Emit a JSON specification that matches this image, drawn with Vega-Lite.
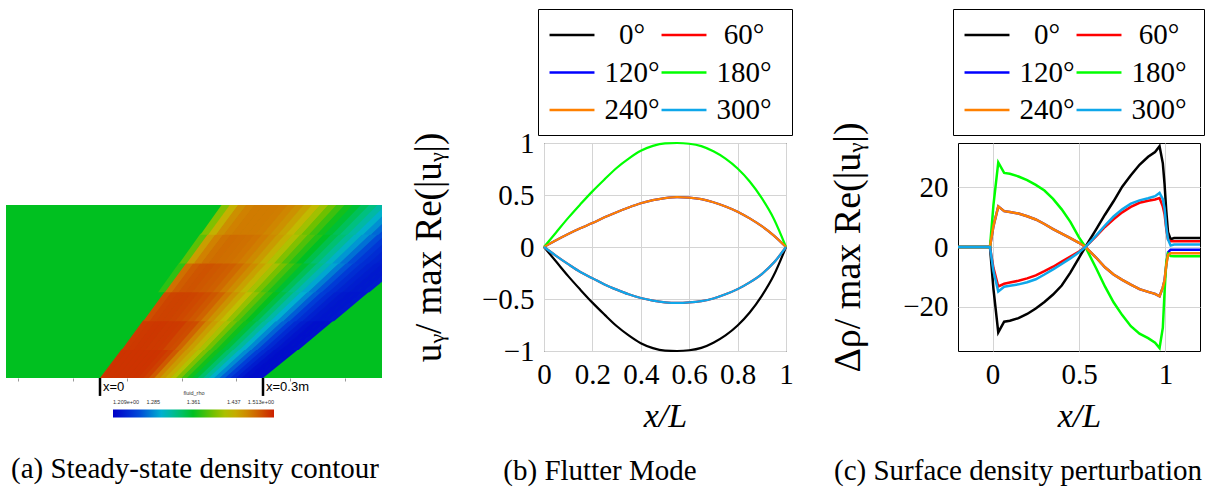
{
"$schema": "https://vega.github.io/schema/vega-lite/v6.json",
"padding": {"left": 6, "top": 8, "right": 0, "bottom": 4},
"background": "white",
"bounds": "flush",
"spacing": 172,
"resolve": {"scale": {"color": "independent"}, "legend": {"color": "independent"}},
"config": {
  "font": "Liberation Serif",
  "view": {"stroke": "black", "strokeWidth": 1},
  "axis": {"labelFont": "Liberation Serif", "labelFontSize": 29, "labelColor": "black", "titleFont": "Liberation Serif", "titleColor": "black", "titleFontWeight": "normal", "ticks": false, "domain": false, "gridColor": "#d4d4d4", "gridWidth": 1, "labelFlush": false, "labelOverlap": false},
  "title": {"font": "Liberation Serif", "fontSize": 29, "fontWeight": "normal", "color": "black"}
},
"datasets": {
  "bg": [{"x1": -0.173, "x2": 0.519, "y1": 0, "y2": 0.3184, "r": 1.361}],
  "mask": [{"x1": 0.519, "x2": 0.6, "y1": -0.005, "y2": 0.325}],
  "marks": [{"pos": 0, "label": "x=0"}, {"pos": 0.3, "label": "x=0.3m"}],
  "field": [
{"g":101,"y":0,"a":0,"b":0.0115,"r":1.504},{"g":101,"y":0.0531,"a":0.0398,"b":0.0522,"r":1.504},
{"g":102,"y":0,"a":0.01,"b":0.0215,"r":1.504},{"g":102,"y":0.0531,"a":0.0507,"b":0.063,"r":1.504},
{"g":103,"y":0,"a":0.02,"b":0.0315,"r":1.504},{"g":103,"y":0.0531,"a":0.0615,"b":0.0739,"r":1.504},
{"g":104,"y":0,"a":0.03,"b":0.0415,"r":1.504},{"g":104,"y":0.0531,"a":0.0724,"b":0.0847,"r":1.504},
{"g":105,"y":0,"a":0.04,"b":0.0515,"r":1.504},{"g":105,"y":0.0531,"a":0.0832,"b":0.0956,"r":1.504},
{"g":106,"y":0,"a":0.05,"b":0.0615,"r":1.504},{"g":106,"y":0.0531,"a":0.0941,"b":0.1064,"r":1.504},
{"g":107,"y":0,"a":0.06,"b":0.0715,"r":1.504},{"g":107,"y":0.0531,"a":0.1049,"b":0.1173,"r":1.504},
{"g":108,"y":0,"a":0.07,"b":0.0815,"r":1.502},{"g":108,"y":0.0531,"a":0.1158,"b":0.1281,"r":1.502},
{"g":109,"y":0,"a":0.08,"b":0.0915,"r":1.498},{"g":109,"y":0.0531,"a":0.1266,"b":0.1389,"r":1.498},
{"g":110,"y":0,"a":0.09,"b":0.1015,"r":1.486},{"g":110,"y":0.0531,"a":0.1374,"b":0.1498,"r":1.486},
{"g":111,"y":0,"a":0.1,"b":0.1115,"r":1.467},{"g":111,"y":0.0531,"a":0.1483,"b":0.1606,"r":1.467},
{"g":112,"y":0,"a":0.11,"b":0.1215,"r":1.452},{"g":112,"y":0.0531,"a":0.1591,"b":0.1715,"r":1.452},
{"g":113,"y":0,"a":0.12,"b":0.1315,"r":1.44},{"g":113,"y":0.0531,"a":0.17,"b":0.1823,"r":1.44},
{"g":114,"y":0,"a":0.13,"b":0.1415,"r":1.423},{"g":114,"y":0.0531,"a":0.1808,"b":0.1932,"r":1.423},
{"g":115,"y":0,"a":0.14,"b":0.1515,"r":1.402},{"g":115,"y":0.0531,"a":0.1917,"b":0.204,"r":1.402},
{"g":116,"y":0,"a":0.15,"b":0.1615,"r":1.382},{"g":116,"y":0.0531,"a":0.2025,"b":0.2149,"r":1.382},
{"g":117,"y":0,"a":0.16,"b":0.1715,"r":1.367},{"g":117,"y":0.0531,"a":0.2134,"b":0.2257,"r":1.367},
{"g":118,"y":0,"a":0.17,"b":0.1815,"r":1.353},{"g":118,"y":0.0531,"a":0.2242,"b":0.2366,"r":1.353},
{"g":119,"y":0,"a":0.18,"b":0.1915,"r":1.338},{"g":119,"y":0.0531,"a":0.2351,"b":0.2474,"r":1.338},
{"g":120,"y":0,"a":0.19,"b":0.2015,"r":1.321},{"g":120,"y":0.0531,"a":0.2459,"b":0.2583,"r":1.321},
{"g":121,"y":0,"a":0.2,"b":0.2115,"r":1.303},{"g":121,"y":0.0531,"a":0.2568,"b":0.2691,"r":1.303},
{"g":122,"y":0,"a":0.21,"b":0.2215,"r":1.285},{"g":122,"y":0.0531,"a":0.2676,"b":0.28,"r":1.285},
{"g":123,"y":0,"a":0.22,"b":0.2315,"r":1.268},{"g":123,"y":0.0531,"a":0.2785,"b":0.2908,"r":1.268},
{"g":124,"y":0,"a":0.23,"b":0.2415,"r":1.253},{"g":124,"y":0.0531,"a":0.2893,"b":0.3017,"r":1.253},
{"g":125,"y":0,"a":0.24,"b":0.2515,"r":1.239},{"g":125,"y":0.0531,"a":0.3002,"b":0.3125,"r":1.239},
{"g":126,"y":0,"a":0.25,"b":0.2615,"r":1.229},{"g":126,"y":0.0531,"a":0.311,"b":0.3234,"r":1.229},
{"g":127,"y":0,"a":0.26,"b":0.2715,"r":1.221},{"g":127,"y":0.0531,"a":0.3219,"b":0.3342,"r":1.221},
{"g":128,"y":0,"a":0.27,"b":0.2815,"r":1.218},{"g":128,"y":0.0531,"a":0.3327,"b":0.3451,"r":1.218},
{"g":129,"y":0,"a":0.28,"b":0.2915,"r":1.218},{"g":129,"y":0.0531,"a":0.3436,"b":0.3559,"r":1.218},
{"g":130,"y":0,"a":0.29,"b":0.3,"r":1.218},{"g":130,"y":0.0531,"a":0.3544,"b":0.3653,"r":1.218},
{"g":201,"y":0.0516,"a":0.0398,"b":0.0522,"r":1.5},{"g":201,"y":0.1061,"a":0.0796,"b":0.0928,"r":1.5},
{"g":202,"y":0.0516,"a":0.0507,"b":0.063,"r":1.501},{"g":202,"y":0.1061,"a":0.0913,"b":0.1045,"r":1.501},
{"g":203,"y":0.0516,"a":0.0615,"b":0.0739,"r":1.502},{"g":203,"y":0.1061,"a":0.103,"b":0.1162,"r":1.502},
{"g":204,"y":0.0516,"a":0.0724,"b":0.0847,"r":1.502},{"g":204,"y":0.1061,"a":0.1147,"b":0.1279,"r":1.502},
{"g":205,"y":0.0516,"a":0.0832,"b":0.0956,"r":1.501},{"g":205,"y":0.1061,"a":0.1264,"b":0.1396,"r":1.501},
{"g":206,"y":0.0516,"a":0.0941,"b":0.1064,"r":1.501},{"g":206,"y":0.1061,"a":0.1381,"b":0.1513,"r":1.501},
{"g":207,"y":0.0516,"a":0.1049,"b":0.1173,"r":1.5},{"g":207,"y":0.1061,"a":0.1498,"b":0.163,"r":1.5},
{"g":208,"y":0.0516,"a":0.1158,"b":0.1281,"r":1.494},{"g":208,"y":0.1061,"a":0.1615,"b":0.1747,"r":1.494},
{"g":209,"y":0.0516,"a":0.1266,"b":0.1389,"r":1.492},{"g":209,"y":0.1061,"a":0.1732,"b":0.1864,"r":1.492},
{"g":210,"y":0.0516,"a":0.1374,"b":0.1498,"r":1.48},{"g":210,"y":0.1061,"a":0.1849,"b":0.1981,"r":1.48},
{"g":211,"y":0.0516,"a":0.1483,"b":0.1606,"r":1.464},{"g":211,"y":0.1061,"a":0.1966,"b":0.2098,"r":1.464},
{"g":212,"y":0.0516,"a":0.1591,"b":0.1715,"r":1.449},{"g":212,"y":0.1061,"a":0.2083,"b":0.2215,"r":1.449},
{"g":213,"y":0.0516,"a":0.17,"b":0.1823,"r":1.436},{"g":213,"y":0.1061,"a":0.22,"b":0.2332,"r":1.436},
{"g":214,"y":0.0516,"a":0.1808,"b":0.1932,"r":1.419},{"g":214,"y":0.1061,"a":0.2317,"b":0.2449,"r":1.419},
{"g":215,"y":0.0516,"a":0.1917,"b":0.204,"r":1.399},{"g":215,"y":0.1061,"a":0.2434,"b":0.2566,"r":1.399},
{"g":216,"y":0.0516,"a":0.2025,"b":0.2149,"r":1.38},{"g":216,"y":0.1061,"a":0.2551,"b":0.2683,"r":1.38},
{"g":217,"y":0.0516,"a":0.2134,"b":0.2257,"r":1.366},{"g":217,"y":0.1061,"a":0.2668,"b":0.28,"r":1.366},
{"g":218,"y":0.0516,"a":0.2242,"b":0.2366,"r":1.352},{"g":218,"y":0.1061,"a":0.2785,"b":0.2917,"r":1.352},
{"g":219,"y":0.0516,"a":0.2351,"b":0.2474,"r":1.337},{"g":219,"y":0.1061,"a":0.2902,"b":0.3034,"r":1.337},
{"g":220,"y":0.0516,"a":0.2459,"b":0.2583,"r":1.32},{"g":220,"y":0.1061,"a":0.3019,"b":0.3151,"r":1.32},
{"g":221,"y":0.0516,"a":0.2568,"b":0.2691,"r":1.302},{"g":221,"y":0.1061,"a":0.3136,"b":0.3268,"r":1.302},
{"g":222,"y":0.0516,"a":0.2676,"b":0.28,"r":1.284},{"g":222,"y":0.1061,"a":0.3253,"b":0.3385,"r":1.284},
{"g":223,"y":0.0516,"a":0.2785,"b":0.2908,"r":1.268},{"g":223,"y":0.1061,"a":0.337,"b":0.3502,"r":1.268},
{"g":224,"y":0.0516,"a":0.2893,"b":0.3017,"r":1.253},{"g":224,"y":0.1061,"a":0.3487,"b":0.3619,"r":1.253},
{"g":225,"y":0.0516,"a":0.3002,"b":0.3125,"r":1.239},{"g":225,"y":0.1061,"a":0.3604,"b":0.3736,"r":1.239},
{"g":226,"y":0.0516,"a":0.311,"b":0.3234,"r":1.23},{"g":226,"y":0.1061,"a":0.3721,"b":0.3853,"r":1.23},
{"g":227,"y":0.0516,"a":0.3219,"b":0.3342,"r":1.223},{"g":227,"y":0.1061,"a":0.3838,"b":0.397,"r":1.223},
{"g":228,"y":0.0516,"a":0.3327,"b":0.3451,"r":1.22},{"g":228,"y":0.1061,"a":0.3955,"b":0.4087,"r":1.22},
{"g":229,"y":0.0516,"a":0.3436,"b":0.3559,"r":1.22},{"g":229,"y":0.1061,"a":0.4072,"b":0.4204,"r":1.22},
{"g":230,"y":0.0516,"a":0.3544,"b":0.3653,"r":1.221},{"g":230,"y":0.1061,"a":0.4189,"b":0.4306,"r":1.221},
{"g":301,"y":0.1046,"a":0.0796,"b":0.0928,"r":1.491},{"g":301,"y":0.1592,"a":0.1194,"b":0.1335,"r":1.491},
{"g":302,"y":0.1046,"a":0.0913,"b":0.1045,"r":1.496},{"g":302,"y":0.1592,"a":0.132,"b":0.146,"r":1.496},
{"g":303,"y":0.1046,"a":0.103,"b":0.1162,"r":1.497},{"g":303,"y":0.1592,"a":0.1445,"b":0.1586,"r":1.497},
{"g":304,"y":0.1046,"a":0.1147,"b":0.1279,"r":1.497},{"g":304,"y":0.1592,"a":0.1571,"b":0.1711,"r":1.497},
{"g":305,"y":0.1046,"a":0.1264,"b":0.1396,"r":1.496},{"g":305,"y":0.1592,"a":0.1696,"b":0.1837,"r":1.496},
{"g":306,"y":0.1046,"a":0.1381,"b":0.1513,"r":1.494},{"g":306,"y":0.1592,"a":0.1822,"b":0.1962,"r":1.494},
{"g":307,"y":0.1046,"a":0.1498,"b":0.163,"r":1.491},{"g":307,"y":0.1592,"a":0.1947,"b":0.2088,"r":1.491},
{"g":308,"y":0.1046,"a":0.1615,"b":0.1747,"r":1.487},{"g":308,"y":0.1592,"a":0.2073,"b":0.2213,"r":1.487},
{"g":309,"y":0.1046,"a":0.1732,"b":0.1864,"r":1.481},{"g":309,"y":0.1592,"a":0.2198,"b":0.2338,"r":1.481},
{"g":310,"y":0.1046,"a":0.1849,"b":0.1981,"r":1.47},{"g":310,"y":0.1592,"a":0.2323,"b":0.2464,"r":1.47},
{"g":311,"y":0.1046,"a":0.1966,"b":0.2098,"r":1.456},{"g":311,"y":0.1592,"a":0.2449,"b":0.2589,"r":1.456},
{"g":312,"y":0.1046,"a":0.2083,"b":0.2215,"r":1.443},{"g":312,"y":0.1592,"a":0.2574,"b":0.2715,"r":1.443},
{"g":313,"y":0.1046,"a":0.22,"b":0.2332,"r":1.429},{"g":313,"y":0.1592,"a":0.27,"b":0.284,"r":1.429},
{"g":314,"y":0.1046,"a":0.2317,"b":0.2449,"r":1.411},{"g":314,"y":0.1592,"a":0.2825,"b":0.2966,"r":1.411},
{"g":315,"y":0.1046,"a":0.2434,"b":0.2566,"r":1.393},{"g":315,"y":0.1592,"a":0.2951,"b":0.3091,"r":1.393},
{"g":316,"y":0.1046,"a":0.2551,"b":0.2683,"r":1.377},{"g":316,"y":0.1592,"a":0.3076,"b":0.3217,"r":1.377},
{"g":317,"y":0.1046,"a":0.2668,"b":0.28,"r":1.363},{"g":317,"y":0.1592,"a":0.3202,"b":0.3342,"r":1.363},
{"g":318,"y":0.1046,"a":0.2785,"b":0.2917,"r":1.349},{"g":318,"y":0.1592,"a":0.3327,"b":0.3468,"r":1.349},
{"g":319,"y":0.1046,"a":0.2902,"b":0.3034,"r":1.334},{"g":319,"y":0.1592,"a":0.3453,"b":0.3593,"r":1.334},
{"g":320,"y":0.1046,"a":0.3019,"b":0.3151,"r":1.317},{"g":320,"y":0.1592,"a":0.3578,"b":0.3718,"r":1.317},
{"g":321,"y":0.1046,"a":0.3136,"b":0.3268,"r":1.3},{"g":321,"y":0.1592,"a":0.3703,"b":0.3844,"r":1.3},
{"g":322,"y":0.1046,"a":0.3253,"b":0.3385,"r":1.283},{"g":322,"y":0.1592,"a":0.3829,"b":0.3969,"r":1.283},
{"g":323,"y":0.1046,"a":0.337,"b":0.3502,"r":1.266},{"g":323,"y":0.1592,"a":0.3954,"b":0.4095,"r":1.266},
{"g":324,"y":0.1046,"a":0.3487,"b":0.3619,"r":1.252},{"g":324,"y":0.1592,"a":0.408,"b":0.422,"r":1.252},
{"g":325,"y":0.1046,"a":0.3604,"b":0.3736,"r":1.241},{"g":325,"y":0.1592,"a":0.4205,"b":0.4346,"r":1.241},
{"g":326,"y":0.1046,"a":0.3721,"b":0.3853,"r":1.232},{"g":326,"y":0.1592,"a":0.4331,"b":0.4471,"r":1.232},
{"g":327,"y":0.1046,"a":0.3838,"b":0.397,"r":1.227},{"g":327,"y":0.1592,"a":0.4456,"b":0.4597,"r":1.227},
{"g":328,"y":0.1046,"a":0.3955,"b":0.4087,"r":1.225},{"g":328,"y":0.1592,"a":0.4582,"b":0.4722,"r":1.225},
{"g":329,"y":0.1046,"a":0.4072,"b":0.4204,"r":1.225},{"g":329,"y":0.1592,"a":0.4707,"b":0.4848,"r":1.225},
{"g":330,"y":0.1046,"a":0.4189,"b":0.4306,"r":1.226},{"g":330,"y":0.1592,"a":0.4833,"b":0.4958,"r":1.226},
{"g":400,"y":0.1577,"a":0.1069,"b":0.1209,"r":1.376},{"g":400,"y":0.2123,"a":0.1458,"b":0.1607,"r":1.376},
{"g":401,"y":0.1577,"a":0.1194,"b":0.1335,"r":1.475},{"g":401,"y":0.2123,"a":0.1592,"b":0.1741,"r":1.475},
{"g":402,"y":0.1577,"a":0.132,"b":0.146,"r":1.484},{"g":402,"y":0.2123,"a":0.1726,"b":0.1875,"r":1.484},
{"g":403,"y":0.1577,"a":0.1445,"b":0.1586,"r":1.488},{"g":403,"y":0.2123,"a":0.186,"b":0.2009,"r":1.488},
{"g":404,"y":0.1577,"a":0.1571,"b":0.1711,"r":1.489},{"g":404,"y":0.2123,"a":0.1994,"b":0.2143,"r":1.489},
{"g":405,"y":0.1577,"a":0.1696,"b":0.1837,"r":1.487},{"g":405,"y":0.2123,"a":0.2128,"b":0.2277,"r":1.487},
{"g":406,"y":0.1577,"a":0.1822,"b":0.1962,"r":1.485},{"g":406,"y":0.2123,"a":0.2262,"b":0.2411,"r":1.485},
{"g":407,"y":0.1577,"a":0.1947,"b":0.2088,"r":1.483},{"g":407,"y":0.2123,"a":0.2396,"b":0.2545,"r":1.483},
{"g":408,"y":0.1577,"a":0.2073,"b":0.2213,"r":1.478},{"g":408,"y":0.2123,"a":0.253,"b":0.2679,"r":1.478},
{"g":409,"y":0.1577,"a":0.2198,"b":0.2338,"r":1.47},{"g":409,"y":0.2123,"a":0.2664,"b":0.2813,"r":1.47},
{"g":410,"y":0.1577,"a":0.2323,"b":0.2464,"r":1.46},{"g":410,"y":0.2123,"a":0.2798,"b":0.2947,"r":1.46},
{"g":411,"y":0.1577,"a":0.2449,"b":0.2589,"r":1.447},{"g":411,"y":0.2123,"a":0.2932,"b":0.3081,"r":1.447},
{"g":412,"y":0.1577,"a":0.2574,"b":0.2715,"r":1.434},{"g":412,"y":0.2123,"a":0.3066,"b":0.3215,"r":1.434},
{"g":413,"y":0.1577,"a":0.27,"b":0.284,"r":1.418},{"g":413,"y":0.2123,"a":0.32,"b":0.3349,"r":1.418},
{"g":414,"y":0.1577,"a":0.2825,"b":0.2966,"r":1.4},{"g":414,"y":0.2123,"a":0.3334,"b":0.3483,"r":1.4},
{"g":415,"y":0.1577,"a":0.2951,"b":0.3091,"r":1.384},{"g":415,"y":0.2123,"a":0.3468,"b":0.3617,"r":1.384},
{"g":416,"y":0.1577,"a":0.3076,"b":0.3217,"r":1.37},{"g":416,"y":0.2123,"a":0.3602,"b":0.3751,"r":1.37},
{"g":417,"y":0.1577,"a":0.3202,"b":0.3342,"r":1.356},{"g":417,"y":0.2123,"a":0.3736,"b":0.3885,"r":1.356},
{"g":418,"y":0.1577,"a":0.3327,"b":0.3468,"r":1.343},{"g":418,"y":0.2123,"a":0.387,"b":0.4019,"r":1.343},
{"g":419,"y":0.1577,"a":0.3453,"b":0.3593,"r":1.328},{"g":419,"y":0.2123,"a":0.4004,"b":0.4153,"r":1.328},
{"g":420,"y":0.1577,"a":0.3578,"b":0.3718,"r":1.312},{"g":420,"y":0.2123,"a":0.4138,"b":0.4286,"r":1.312},
{"g":421,"y":0.1577,"a":0.3703,"b":0.3844,"r":1.296},{"g":421,"y":0.2123,"a":0.4271,"b":0.442,"r":1.296},
{"g":422,"y":0.1577,"a":0.3829,"b":0.3969,"r":1.279},{"g":422,"y":0.2123,"a":0.4405,"b":0.4554,"r":1.279},
{"g":423,"y":0.1577,"a":0.3954,"b":0.4095,"r":1.263},{"g":423,"y":0.2123,"a":0.4539,"b":0.4688,"r":1.263},
{"g":424,"y":0.1577,"a":0.408,"b":0.422,"r":1.25},{"g":424,"y":0.2123,"a":0.4673,"b":0.4822,"r":1.25},
{"g":425,"y":0.1577,"a":0.4205,"b":0.4346,"r":1.241},{"g":425,"y":0.2123,"a":0.4807,"b":0.4956,"r":1.241},
{"g":426,"y":0.1577,"a":0.4331,"b":0.4471,"r":1.234},{"g":426,"y":0.2123,"a":0.4941,"b":0.509,"r":1.234},
{"g":427,"y":0.1577,"a":0.4456,"b":0.4597,"r":1.23},{"g":427,"y":0.2123,"a":0.5075,"b":0.5224,"r":1.23},
{"g":428,"y":0.1577,"a":0.4582,"b":0.4722,"r":1.227},{"g":428,"y":0.2123,"a":0.5209,"b":0.5358,"r":1.227},
{"g":429,"y":0.1577,"a":0.4707,"b":0.4848,"r":1.227},{"g":429,"y":0.2123,"a":0.5343,"b":0.5492,"r":1.227},
{"g":430,"y":0.1577,"a":0.4833,"b":0.4958,"r":1.229},{"g":430,"y":0.2123,"a":0.5477,"b":0.5611,"r":1.229},
{"g":500,"y":0.2108,"a":0.1458,"b":0.1607,"r":1.391},{"g":500,"y":0.2653,"a":0.1848,"b":0.2005,"r":1.391},
{"g":501,"y":0.2108,"a":0.1592,"b":0.1741,"r":1.449},{"g":501,"y":0.2653,"a":0.199,"b":0.2148,"r":1.449},
{"g":502,"y":0.2108,"a":0.1726,"b":0.1875,"r":1.467},{"g":502,"y":0.2653,"a":0.2133,"b":0.229,"r":1.467},
{"g":503,"y":0.2108,"a":0.186,"b":0.2009,"r":1.474},{"g":503,"y":0.2653,"a":0.2275,"b":0.2433,"r":1.474},
{"g":504,"y":0.2108,"a":0.1994,"b":0.2143,"r":1.477},{"g":504,"y":0.2653,"a":0.2418,"b":0.2575,"r":1.477},
{"g":505,"y":0.2108,"a":0.2128,"b":0.2277,"r":1.476},{"g":505,"y":0.2653,"a":0.256,"b":0.2718,"r":1.476},
{"g":506,"y":0.2108,"a":0.2262,"b":0.2411,"r":1.475},{"g":506,"y":0.2653,"a":0.2703,"b":0.286,"r":1.475},
{"g":507,"y":0.2108,"a":0.2396,"b":0.2545,"r":1.473},{"g":507,"y":0.2653,"a":0.2845,"b":0.3003,"r":1.473},
{"g":508,"y":0.2108,"a":0.253,"b":0.2679,"r":1.469},{"g":508,"y":0.2653,"a":0.2988,"b":0.3145,"r":1.469},
{"g":509,"y":0.2108,"a":0.2664,"b":0.2813,"r":1.461},{"g":509,"y":0.2653,"a":0.313,"b":0.3287,"r":1.461},
{"g":510,"y":0.2108,"a":0.2798,"b":0.2947,"r":1.451},{"g":510,"y":0.2653,"a":0.3272,"b":0.343,"r":1.451},
{"g":511,"y":0.2108,"a":0.2932,"b":0.3081,"r":1.437},{"g":511,"y":0.2653,"a":0.3415,"b":0.3572,"r":1.437},
{"g":512,"y":0.2108,"a":0.3066,"b":0.3215,"r":1.422},{"g":512,"y":0.2653,"a":0.3557,"b":0.3715,"r":1.422},
{"g":513,"y":0.2108,"a":0.32,"b":0.3349,"r":1.404},{"g":513,"y":0.2653,"a":0.37,"b":0.3857,"r":1.404},
{"g":514,"y":0.2108,"a":0.3334,"b":0.3483,"r":1.387},{"g":514,"y":0.2653,"a":0.3842,"b":0.4,"r":1.387},
{"g":515,"y":0.2108,"a":0.3468,"b":0.3617,"r":1.373},{"g":515,"y":0.2653,"a":0.3985,"b":0.4142,"r":1.373},
{"g":516,"y":0.2108,"a":0.3602,"b":0.3751,"r":1.36},{"g":516,"y":0.2653,"a":0.4127,"b":0.4285,"r":1.36},
{"g":517,"y":0.2108,"a":0.3736,"b":0.3885,"r":1.347},{"g":517,"y":0.2653,"a":0.427,"b":0.4427,"r":1.347},
{"g":518,"y":0.2108,"a":0.387,"b":0.4019,"r":1.335},{"g":518,"y":0.2653,"a":0.4412,"b":0.457,"r":1.335},
{"g":519,"y":0.2108,"a":0.4004,"b":0.4153,"r":1.321},{"g":519,"y":0.2653,"a":0.4555,"b":0.4712,"r":1.321},
{"g":520,"y":0.2108,"a":0.4138,"b":0.4286,"r":1.305},{"g":520,"y":0.2653,"a":0.4697,"b":0.4854,"r":1.305},
{"g":521,"y":0.2108,"a":0.4271,"b":0.442,"r":1.29},{"g":521,"y":0.2653,"a":0.4839,"b":0.4997,"r":1.29},
{"g":522,"y":0.2108,"a":0.4405,"b":0.4554,"r":1.274},{"g":522,"y":0.2653,"a":0.4982,"b":0.5139,"r":1.274},
{"g":523,"y":0.2108,"a":0.4539,"b":0.4688,"r":1.259},{"g":523,"y":0.2653,"a":0.5124,"b":0.5282,"r":1.259},
{"g":524,"y":0.2108,"a":0.4673,"b":0.4822,"r":1.248},{"g":524,"y":0.2653,"a":0.5267,"b":0.5424,"r":1.248},
{"g":525,"y":0.2108,"a":0.4807,"b":0.4956,"r":1.24},{"g":525,"y":0.2653,"a":0.5409,"b":0.5567,"r":1.24},
{"g":526,"y":0.2108,"a":0.4941,"b":0.509,"r":1.235},{"g":526,"y":0.2653,"a":0.5552,"b":0.5709,"r":1.235},
{"g":527,"y":0.2108,"a":0.5075,"b":0.5224,"r":1.231},{"g":527,"y":0.2653,"a":0.5694,"b":0.5852,"r":1.231},
{"g":600,"y":0.2638,"a":0.1848,"b":0.2005,"r":1.404},{"g":600,"y":0.3184,"a":0.2237,"b":0.2403,"r":1.404},
{"g":601,"y":0.2638,"a":0.199,"b":0.2148,"r":1.437},{"g":601,"y":0.3184,"a":0.2388,"b":0.2554,"r":1.437},
{"g":602,"y":0.2638,"a":0.2133,"b":0.229,"r":1.458},{"g":602,"y":0.3184,"a":0.2539,"b":0.2705,"r":1.458},
{"g":603,"y":0.2638,"a":0.2275,"b":0.2433,"r":1.467},{"g":603,"y":0.3184,"a":0.269,"b":0.2856,"r":1.467},
{"g":604,"y":0.2638,"a":0.2418,"b":0.2575,"r":1.47},{"g":604,"y":0.3184,"a":0.2841,"b":0.3007,"r":1.47},
{"g":605,"y":0.2638,"a":0.256,"b":0.2718,"r":1.47},{"g":605,"y":0.3184,"a":0.2992,"b":0.3158,"r":1.47},
{"g":606,"y":0.2638,"a":0.2703,"b":0.286,"r":1.47},{"g":606,"y":0.3184,"a":0.3143,"b":0.3309,"r":1.47},
{"g":607,"y":0.2638,"a":0.2845,"b":0.3003,"r":1.469},{"g":607,"y":0.3184,"a":0.3294,"b":0.346,"r":1.469},
{"g":608,"y":0.2638,"a":0.2988,"b":0.3145,"r":1.464},{"g":608,"y":0.3184,"a":0.3445,"b":0.3611,"r":1.464},
{"g":609,"y":0.2638,"a":0.313,"b":0.3287,"r":1.457},{"g":609,"y":0.3184,"a":0.3596,"b":0.3761,"r":1.457},
{"g":610,"y":0.2638,"a":0.3272,"b":0.343,"r":1.446},{"g":610,"y":0.3184,"a":0.3746,"b":0.3912,"r":1.446},
{"g":611,"y":0.2638,"a":0.3415,"b":0.3572,"r":1.432},{"g":611,"y":0.3184,"a":0.3897,"b":0.4063,"r":1.432},
{"g":612,"y":0.2638,"a":0.3557,"b":0.3715,"r":1.416},{"g":612,"y":0.3184,"a":0.4048,"b":0.4214,"r":1.416},
{"g":613,"y":0.2638,"a":0.37,"b":0.3857,"r":1.397},{"g":613,"y":0.3184,"a":0.4199,"b":0.4365,"r":1.397},
{"g":614,"y":0.2638,"a":0.3842,"b":0.4,"r":1.381},{"g":614,"y":0.3184,"a":0.435,"b":0.4516,"r":1.381},
{"g":615,"y":0.2638,"a":0.3985,"b":0.4142,"r":1.367},{"g":615,"y":0.3184,"a":0.4501,"b":0.4667,"r":1.367},
{"g":616,"y":0.2638,"a":0.4127,"b":0.4285,"r":1.355},{"g":616,"y":0.3184,"a":0.4652,"b":0.4818,"r":1.355},
{"g":617,"y":0.2638,"a":0.427,"b":0.4427,"r":1.343},{"g":617,"y":0.3184,"a":0.4803,"b":0.4969,"r":1.343},
{"g":618,"y":0.2638,"a":0.4412,"b":0.457,"r":1.331},{"g":618,"y":0.3184,"a":0.4954,"b":0.512,"r":1.331},
{"g":619,"y":0.2638,"a":0.4555,"b":0.4712,"r":1.317},{"g":619,"y":0.3184,"a":0.5105,"b":0.5271,"r":1.317},
{"g":620,"y":0.2638,"a":0.4697,"b":0.4854,"r":1.302},{"g":620,"y":0.3184,"a":0.5256,"b":0.5422,"r":1.302},
{"g":621,"y":0.2638,"a":0.4839,"b":0.4997,"r":1.287},{"g":621,"y":0.3184,"a":0.5407,"b":0.5573,"r":1.287},
{"g":622,"y":0.2638,"a":0.4982,"b":0.5139,"r":1.271},{"g":622,"y":0.3184,"a":0.5558,"b":0.5724,"r":1.271},
{"g":623,"y":0.2638,"a":0.5124,"b":0.5282,"r":1.258},{"g":623,"y":0.3184,"a":0.5709,"b":0.5875,"r":1.258}
  ],
  "flutter": [
    {"x":0,"v":0,"p":"0°"},{"x":0.05,"v":-0.14,"p":"0°"},{"x":0.1,"v":-0.28,"p":"0°"},{"x":0.15,"v":-0.41,"p":"0°"},{"x":0.2,"v":-0.535,"p":"0°"},{"x":0.25,"v":-0.65,"p":"0°"},{"x":0.3,"v":-0.76,"p":"0°"},{"x":0.35,"v":-0.85,"p":"0°"},{"x":0.4,"v":-0.925,"p":"0°"},{"x":0.45,"v":-0.972,"p":"0°"},{"x":0.5,"v":-0.996,"p":"0°"},{"x":0.55,"v":-1,"p":"0°"},{"x":0.6,"v":-0.993,"p":"0°"},{"x":0.65,"v":-0.97,"p":"0°"},{"x":0.7,"v":-0.92,"p":"0°"},{"x":0.75,"v":-0.85,"p":"0°"},{"x":0.8,"v":-0.755,"p":"0°"},{"x":0.85,"v":-0.63,"p":"0°"},{"x":0.9,"v":-0.47,"p":"0°"},{"x":0.95,"v":-0.27,"p":"0°"},{"x":1,"v":0,"p":"0°"},
    {"x":0,"v":0,"p":"60°"},{"x":0.05,"v":-0.085,"p":"60°"},{"x":0.1,"v":-0.165,"p":"60°"},{"x":0.15,"v":-0.24,"p":"60°"},{"x":0.2,"v":-0.3,"p":"60°"},{"x":0.25,"v":-0.36,"p":"60°"},{"x":0.3,"v":-0.41,"p":"60°"},{"x":0.35,"v":-0.455,"p":"60°"},{"x":0.4,"v":-0.49,"p":"60°"},{"x":0.45,"v":-0.515,"p":"60°"},{"x":0.5,"v":-0.532,"p":"60°"},{"x":0.55,"v":-0.538,"p":"60°"},{"x":0.6,"v":-0.533,"p":"60°"},{"x":0.65,"v":-0.52,"p":"60°"},{"x":0.7,"v":-0.495,"p":"60°"},{"x":0.75,"v":-0.455,"p":"60°"},{"x":0.8,"v":-0.405,"p":"60°"},{"x":0.85,"v":-0.34,"p":"60°"},{"x":0.9,"v":-0.26,"p":"60°"},{"x":0.95,"v":-0.15,"p":"60°"},{"x":1,"v":0,"p":"60°"},
    {"x":0,"v":0,"p":"120°"},{"x":0.05,"v":0.065,"p":"120°"},{"x":0.1,"v":0.125,"p":"120°"},{"x":0.15,"v":0.18,"p":"120°"},{"x":0.2,"v":0.23,"p":"120°"},{"x":0.25,"v":0.285,"p":"120°"},{"x":0.3,"v":0.335,"p":"120°"},{"x":0.35,"v":0.38,"p":"120°"},{"x":0.4,"v":0.42,"p":"120°"},{"x":0.45,"v":0.45,"p":"120°"},{"x":0.5,"v":0.47,"p":"120°"},{"x":0.55,"v":0.48,"p":"120°"},{"x":0.6,"v":0.475,"p":"120°"},{"x":0.65,"v":0.46,"p":"120°"},{"x":0.7,"v":0.43,"p":"120°"},{"x":0.75,"v":0.39,"p":"120°"},{"x":0.8,"v":0.34,"p":"120°"},{"x":0.85,"v":0.275,"p":"120°"},{"x":0.9,"v":0.2,"p":"120°"},{"x":0.95,"v":0.11,"p":"120°"},{"x":1,"v":0,"p":"120°"},
    {"x":0,"v":0,"p":"180°"},{"x":0.05,"v":0.14,"p":"180°"},{"x":0.1,"v":0.28,"p":"180°"},{"x":0.15,"v":0.41,"p":"180°"},{"x":0.2,"v":0.535,"p":"180°"},{"x":0.25,"v":0.65,"p":"180°"},{"x":0.3,"v":0.76,"p":"180°"},{"x":0.35,"v":0.85,"p":"180°"},{"x":0.4,"v":0.925,"p":"180°"},{"x":0.45,"v":0.972,"p":"180°"},{"x":0.5,"v":0.996,"p":"180°"},{"x":0.55,"v":1,"p":"180°"},{"x":0.6,"v":0.993,"p":"180°"},{"x":0.65,"v":0.97,"p":"180°"},{"x":0.7,"v":0.92,"p":"180°"},{"x":0.75,"v":0.85,"p":"180°"},{"x":0.8,"v":0.755,"p":"180°"},{"x":0.85,"v":0.63,"p":"180°"},{"x":0.9,"v":0.47,"p":"180°"},{"x":0.95,"v":0.27,"p":"180°"},{"x":1,"v":0,"p":"180°"},
    {"x":0,"v":0,"p":"240°"},{"x":0.05,"v":0.065,"p":"240°"},{"x":0.1,"v":0.125,"p":"240°"},{"x":0.15,"v":0.18,"p":"240°"},{"x":0.2,"v":0.23,"p":"240°"},{"x":0.25,"v":0.285,"p":"240°"},{"x":0.3,"v":0.335,"p":"240°"},{"x":0.35,"v":0.38,"p":"240°"},{"x":0.4,"v":0.42,"p":"240°"},{"x":0.45,"v":0.45,"p":"240°"},{"x":0.5,"v":0.47,"p":"240°"},{"x":0.55,"v":0.48,"p":"240°"},{"x":0.6,"v":0.475,"p":"240°"},{"x":0.65,"v":0.46,"p":"240°"},{"x":0.7,"v":0.43,"p":"240°"},{"x":0.75,"v":0.39,"p":"240°"},{"x":0.8,"v":0.34,"p":"240°"},{"x":0.85,"v":0.275,"p":"240°"},{"x":0.9,"v":0.2,"p":"240°"},{"x":0.95,"v":0.11,"p":"240°"},{"x":1,"v":0,"p":"240°"},
    {"x":0,"v":0,"p":"300°"},{"x":0.05,"v":-0.085,"p":"300°"},{"x":0.1,"v":-0.165,"p":"300°"},{"x":0.15,"v":-0.24,"p":"300°"},{"x":0.2,"v":-0.3,"p":"300°"},{"x":0.25,"v":-0.36,"p":"300°"},{"x":0.3,"v":-0.41,"p":"300°"},{"x":0.35,"v":-0.455,"p":"300°"},{"x":0.4,"v":-0.49,"p":"300°"},{"x":0.45,"v":-0.515,"p":"300°"},{"x":0.5,"v":-0.532,"p":"300°"},{"x":0.55,"v":-0.538,"p":"300°"},{"x":0.6,"v":-0.533,"p":"300°"},{"x":0.65,"v":-0.52,"p":"300°"},{"x":0.7,"v":-0.495,"p":"300°"},{"x":0.75,"v":-0.455,"p":"300°"},{"x":0.8,"v":-0.405,"p":"300°"},{"x":0.85,"v":-0.34,"p":"300°"},{"x":0.9,"v":-0.26,"p":"300°"},{"x":0.95,"v":-0.15,"p":"300°"},{"x":1,"v":0,"p":"300°"}
  ],
  "surface": [
    {"x":-0.2,"v":0,"p":"0°"},{"x":-0.015,"v":0,"p":"0°"},{"x":0.005,"v":-14,"p":"0°"},{"x":0.033,"v":-28.6,"p":"0°"},{"x":0.067,"v":-25,"p":"0°"},{"x":0.1,"v":-24.7,"p":"0°"},{"x":0.15,"v":-23.8,"p":"0°"},{"x":0.2,"v":-22.4,"p":"0°"},{"x":0.25,"v":-20.6,"p":"0°"},{"x":0.3,"v":-18.4,"p":"0°"},{"x":0.35,"v":-15.9,"p":"0°"},{"x":0.4,"v":-12.9,"p":"0°"},{"x":0.45,"v":-8.6,"p":"0°"},{"x":0.5,"v":-3.6,"p":"0°"},{"x":0.537,"v":0,"p":"0°"},{"x":0.6,"v":6,"p":"0°"},{"x":0.65,"v":10.8,"p":"0°"},{"x":0.7,"v":15.3,"p":"0°"},{"x":0.75,"v":20.2,"p":"0°"},{"x":0.8,"v":24,"p":"0°"},{"x":0.85,"v":27.5,"p":"0°"},{"x":0.9,"v":30.2,"p":"0°"},{"x":0.94,"v":31.8,"p":"0°"},{"x":0.966,"v":33.7,"p":"0°"},{"x":0.985,"v":28,"p":"0°"},{"x":0.995,"v":21,"p":"0°"},{"x":1.005,"v":12,"p":"0°"},{"x":1.015,"v":5,"p":"0°"},{"x":1.03,"v":2.6,"p":"0°"},{"x":1.05,"v":3,"p":"0°"},{"x":1.2,"v":3,"p":"0°"},
    {"x":-0.2,"v":0,"p":"60°"},{"x":-0.015,"v":0,"p":"60°"},{"x":0.005,"v":-7,"p":"60°"},{"x":0.033,"v":-13.2,"p":"60°"},{"x":0.067,"v":-12.3,"p":"60°"},{"x":0.1,"v":-11.9,"p":"60°"},{"x":0.15,"v":-11.3,"p":"60°"},{"x":0.2,"v":-10.5,"p":"60°"},{"x":0.25,"v":-9.5,"p":"60°"},{"x":0.3,"v":-8.1,"p":"60°"},{"x":0.35,"v":-6.6,"p":"60°"},{"x":0.4,"v":-4.9,"p":"60°"},{"x":0.45,"v":-3.2,"p":"60°"},{"x":0.5,"v":-1.5,"p":"60°"},{"x":0.537,"v":0,"p":"60°"},{"x":0.6,"v":3.6,"p":"60°"},{"x":0.65,"v":6.7,"p":"60°"},{"x":0.7,"v":9.3,"p":"60°"},{"x":0.75,"v":11.6,"p":"60°"},{"x":0.8,"v":13.4,"p":"60°"},{"x":0.85,"v":14.8,"p":"60°"},{"x":0.9,"v":15.5,"p":"60°"},{"x":0.94,"v":15.9,"p":"60°"},{"x":0.966,"v":16.4,"p":"60°"},{"x":0.985,"v":13.5,"p":"60°"},{"x":0.995,"v":11,"p":"60°"},{"x":1.005,"v":6,"p":"60°"},{"x":1.015,"v":2.5,"p":"60°"},{"x":1.03,"v":1.9,"p":"60°"},{"x":1.05,"v":1.9,"p":"60°"},{"x":1.2,"v":1.9,"p":"60°"},
    {"x":-0.2,"v":0,"p":"120°"},{"x":-0.015,"v":0,"p":"120°"},{"x":0.005,"v":7,"p":"120°"},{"x":0.033,"v":13.6,"p":"120°"},{"x":0.067,"v":12,"p":"120°"},{"x":0.1,"v":11.7,"p":"120°"},{"x":0.15,"v":11.2,"p":"120°"},{"x":0.2,"v":10.3,"p":"120°"},{"x":0.25,"v":9.2,"p":"120°"},{"x":0.3,"v":7.7,"p":"120°"},{"x":0.35,"v":6,"p":"120°"},{"x":0.4,"v":4.5,"p":"120°"},{"x":0.45,"v":3,"p":"120°"},{"x":0.5,"v":1.4,"p":"120°"},{"x":0.537,"v":0,"p":"120°"},{"x":0.6,"v":-3.6,"p":"120°"},{"x":0.65,"v":-6.8,"p":"120°"},{"x":0.7,"v":-9.2,"p":"120°"},{"x":0.75,"v":-11,"p":"120°"},{"x":0.8,"v":-12.6,"p":"120°"},{"x":0.85,"v":-14.1,"p":"120°"},{"x":0.9,"v":-15,"p":"120°"},{"x":0.94,"v":-15.7,"p":"120°"},{"x":0.966,"v":-16.5,"p":"120°"},{"x":0.985,"v":-13.5,"p":"120°"},{"x":0.995,"v":-11.1,"p":"120°"},{"x":1.005,"v":-6,"p":"120°"},{"x":1.015,"v":-1.8,"p":"120°"},{"x":1.03,"v":-0.9,"p":"120°"},{"x":1.05,"v":-0.9,"p":"120°"},{"x":1.2,"v":-0.9,"p":"120°"},
    {"x":-0.2,"v":0,"p":"180°"},{"x":-0.015,"v":0,"p":"180°"},{"x":0.005,"v":14,"p":"180°"},{"x":0.033,"v":28.3,"p":"180°"},{"x":0.067,"v":24.8,"p":"180°"},{"x":0.1,"v":24.5,"p":"180°"},{"x":0.15,"v":23.6,"p":"180°"},{"x":0.2,"v":22.4,"p":"180°"},{"x":0.25,"v":20.8,"p":"180°"},{"x":0.3,"v":18.9,"p":"180°"},{"x":0.35,"v":16.1,"p":"180°"},{"x":0.4,"v":12.6,"p":"180°"},{"x":0.45,"v":8.4,"p":"180°"},{"x":0.5,"v":3.2,"p":"180°"},{"x":0.537,"v":0,"p":"180°"},{"x":0.6,"v":-7.2,"p":"180°"},{"x":0.65,"v":-13.2,"p":"180°"},{"x":0.7,"v":-18.5,"p":"180°"},{"x":0.75,"v":-22.8,"p":"180°"},{"x":0.8,"v":-26.5,"p":"180°"},{"x":0.85,"v":-29,"p":"180°"},{"x":0.9,"v":-30.5,"p":"180°"},{"x":0.94,"v":-32,"p":"180°"},{"x":0.966,"v":-33.8,"p":"180°"},{"x":0.985,"v":-27,"p":"180°"},{"x":0.995,"v":-15,"p":"180°"},{"x":1.005,"v":-5,"p":"180°"},{"x":1.015,"v":-2.2,"p":"180°"},{"x":1.03,"v":-3,"p":"180°"},{"x":1.05,"v":-3.1,"p":"180°"},{"x":1.2,"v":-3.1,"p":"180°"},
    {"x":-0.2,"v":0,"p":"240°"},{"x":-0.015,"v":0,"p":"240°"},{"x":0.005,"v":7,"p":"240°"},{"x":0.033,"v":13.6,"p":"240°"},{"x":0.067,"v":12,"p":"240°"},{"x":0.1,"v":11.7,"p":"240°"},{"x":0.15,"v":11.2,"p":"240°"},{"x":0.2,"v":10.3,"p":"240°"},{"x":0.25,"v":9.2,"p":"240°"},{"x":0.3,"v":7.7,"p":"240°"},{"x":0.35,"v":6,"p":"240°"},{"x":0.4,"v":4.5,"p":"240°"},{"x":0.45,"v":3,"p":"240°"},{"x":0.5,"v":1.4,"p":"240°"},{"x":0.537,"v":0,"p":"240°"},{"x":0.6,"v":-3.6,"p":"240°"},{"x":0.65,"v":-6.8,"p":"240°"},{"x":0.7,"v":-9.2,"p":"240°"},{"x":0.75,"v":-11,"p":"240°"},{"x":0.8,"v":-12.6,"p":"240°"},{"x":0.85,"v":-14.1,"p":"240°"},{"x":0.9,"v":-15,"p":"240°"},{"x":0.94,"v":-15.7,"p":"240°"},{"x":0.966,"v":-16.5,"p":"240°"},{"x":0.985,"v":-13.5,"p":"240°"},{"x":0.995,"v":-11.1,"p":"240°"},{"x":1.005,"v":-6,"p":"240°"},{"x":1.015,"v":-2.7,"p":"240°"},{"x":1.03,"v":-2.1,"p":"240°"},{"x":1.05,"v":-2.1,"p":"240°"},{"x":1.2,"v":-2.1,"p":"240°"},
    {"x":-0.2,"v":0,"p":"300°"},{"x":-0.015,"v":0,"p":"300°"},{"x":0.005,"v":-8,"p":"300°"},{"x":0.033,"v":-14.9,"p":"300°"},{"x":0.067,"v":-13.3,"p":"300°"},{"x":0.1,"v":-13,"p":"300°"},{"x":0.15,"v":-12.5,"p":"300°"},{"x":0.2,"v":-11.8,"p":"300°"},{"x":0.25,"v":-10.8,"p":"300°"},{"x":0.3,"v":-9.2,"p":"300°"},{"x":0.35,"v":-7.5,"p":"300°"},{"x":0.4,"v":-5.7,"p":"300°"},{"x":0.45,"v":-3.8,"p":"300°"},{"x":0.5,"v":-1.8,"p":"300°"},{"x":0.537,"v":0,"p":"300°"},{"x":0.6,"v":3.9,"p":"300°"},{"x":0.65,"v":7.2,"p":"300°"},{"x":0.7,"v":10.2,"p":"300°"},{"x":0.75,"v":12.6,"p":"300°"},{"x":0.8,"v":14.5,"p":"300°"},{"x":0.85,"v":15.6,"p":"300°"},{"x":0.9,"v":16.3,"p":"300°"},{"x":0.94,"v":17,"p":"300°"},{"x":0.966,"v":18.1,"p":"300°"},{"x":0.985,"v":16,"p":"300°"},{"x":0.995,"v":13,"p":"300°"},{"x":1.005,"v":6.5,"p":"300°"},{"x":1.015,"v":2.5,"p":"300°"},{"x":1.03,"v":0.5,"p":"300°"},{"x":1.05,"v":0.8,"p":"300°"},{"x":1.2,"v":0.8,"p":"300°"}
  ]
},
"hconcat": [
  {
    "width": 366, "height": 235,
    "view": {"stroke": null},
    "title": {"text": "(a) Steady-state density contour", "orient": "bottom", "anchor": "middle", "frame": "group", "dx": 6, "offset": 37},
    "layer": [
      {"data": {"name": "bg"}, "mark": {"type": "rect"},
       "encoding": {
         "x": {"field": "x1", "type": "quantitative", "scale": {"domain": [-0.173, 0.5006], "nice": false, "zero": false},
               "axis": {"orient": "bottom", "values": [-0.15,-0.1,-0.05,0,0.05,0.1,0.15,0.2,0.25,0.3,0.35,0.4,0.45,0.5], "labels": false, "ticks": true, "tickSize": 3, "tickColor": "#9a9a9a", "domain": false, "grid": false, "title": null}},
         "x2": {"field": "x2"},
         "y": {"field": "y1", "type": "quantitative", "scale": {"domain": [0, 0.4325], "nice": false, "zero": false}, "axis": null},
         "y2": {"field": "y2"},
         "color": {"field": "r", "type": "quantitative",
           "scale": {"domain": [1.209, 1.2546, 1.3002, 1.3306, 1.361, 1.3975, 1.4279, 1.4674, 1.513], "range": ["#0000c8", "#0040d8", "#00b0d0", "#00c080", "#00c020", "#70c000", "#c0c000", "#d08000", "#cc2000"], "interpolate": "rgb"},
           "legend": {"type": "gradient", "orient": "none", "legendX": 107, "legendY": 248, "direction": "horizontal", "gradientLength": 161, "gradientThickness": 8, "gradientStrokeWidth": 0, "title": "fluid_rho", "titleFont": "Liberation Sans", "titleFontSize": 5.5, "titleFontWeight": "normal", "titleColor": "#333333", "titleAnchor": "middle", "titlePadding": 13, "labelFont": "Liberation Sans", "labelFontSize": 5.5, "labelColor": "#333333", "labelOffset": -18, "labelAlign": "center", "labelOverlap": false, "padding": 0, "values": [1.209, 1.285, 1.361, 1.437, 1.513], "labelExpr": "datum.value < 1.22 ? '1.209e+00' : datum.value > 1.5 ? '1.513e+00' : format(datum.value, '.3f')"}}
       }},
      {"data": {"name": "field"}, "mark": {"type": "area", "orient": "horizontal", "interpolate": "linear"},
       "encoding": {
         "y": {"field": "y", "type": "quantitative"},
         "x": {"field": "a", "type": "quantitative", "stack": null},
         "x2": {"field": "b"},
         "detail": {"field": "g", "type": "nominal"},
         "color": {"field": "r", "type": "quantitative"}
       }},
      {"data": {"name": "mask"}, "mark": {"type": "rect", "color": "white"},
       "encoding": {"x": {"field": "x1", "type": "quantitative"}, "x2": {"field": "x2"}, "y": {"field": "y1", "type": "quantitative"}, "y2": {"field": "y2"}}},
      {"data": {"name": "marks"}, "mark": {"type": "rule", "strokeWidth": 2.5, "color": "black"},
       "encoding": {"x": {"field": "pos", "type": "quantitative"}, "y": {"datum": 0}, "y2": {"datum": -0.033}}},
      {"data": {"name": "marks"}, "mark": {"type": "text", "align": "left", "baseline": "middle", "dx": 3, "font": "Liberation Sans", "fontSize": 13, "color": "black"},
       "encoding": {"x": {"field": "pos", "type": "quantitative"}, "y": {"datum": -0.017}, "text": {"field": "label"}}}
    ]
  },
  {
    "width": 242, "height": 208,
    "title": {"text": "(b) Flutter Mode", "orient": "bottom", "anchor": "middle", "frame": "group", "dx": -65, "offset": 24},
    "data": {"name": "flutter"},
    "mark": {"type": "line", "strokeWidth": 2.2, "interpolate": "monotone"},
    "encoding": {
      "x": {"field": "x", "type": "quantitative", "scale": {"domain": [0, 1], "nice": false, "zero": false},
            "axis": {"values": [0, 0.2, 0.4, 0.6, 0.8, 1], "format": "~g", "title": "x/L", "titleFontSize": 34, "titleFontStyle": "italic", "titlePadding": 10, "labelPadding": 9, "grid": true}},
      "y": {"field": "v", "type": "quantitative", "scale": {"domain": [-1, 1], "nice": false, "zero": false},
            "axis": {"values": [-1, -0.5, 0, 0.5, 1], "format": "~g", "title": "uᵧ/ max Re(|uᵧ|)", "titleFontSize": 37, "titlePadding": 33, "labelPadding": 10, "grid": true}},
      "color": {"field": "p", "type": "nominal",
        "scale": {"domain": ["0°", "60°", "120°", "180°", "240°", "300°"], "range": ["#000000", "#ff0000", "#0000ff", "#00ff00", "#ff8000", "#0fa7ea"]},
        "legend": {"orient": "none", "legendX": -6, "legendY": -134, "direction": "horizontal", "columns": 2, "title": " ", "titleOrient": "right", "titleFontSize": 29, "titlePadding": 10, "symbolType": "M-1.55,0H1.55", "symbolSize": 841, "symbolStrokeWidth": 2.5, "symbolOffset": 8, "labelFont": "Liberation Serif", "labelFontSize": 29, "labelColor": "black", "labelAlign": "center", "labelOffset": 44, "columnPadding": -7, "rowPadding": 6.5, "padding": 10, "strokeColor": "black", "fillColor": "white"}}
    }
  },
  {
    "width": 242, "height": 208,
    "title": {"text": "(c) Surface density perturbation", "orient": "bottom", "anchor": "middle", "frame": "group", "dx": -61, "offset": 24},
    "data": {"name": "surface"},
    "mark": {"type": "line", "strokeWidth": 2.5, "interpolate": "linear"},
    "encoding": {
      "x": {"field": "x", "type": "quantitative", "scale": {"domain": [-0.2, 1.2], "nice": false, "zero": false},
            "axis": {"values": [0, 0.5, 1], "format": "~g", "title": "x/L", "titleFontSize": 34, "titleFontStyle": "italic", "titlePadding": 10, "labelPadding": 9, "grid": true}},
      "y": {"field": "v", "type": "quantitative", "scale": {"domain": [-34.8, 34.8], "nice": false, "zero": false},
            "axis": {"values": [-20, 0, 20], "format": "d", "title": "Δρ/ max Re(|uᵧ|)", "titleFontSize": 38, "titlePadding": 35, "labelPadding": 10, "grid": true}},
      "color": {"field": "p", "type": "nominal",
        "scale": {"domain": ["0°", "60°", "120°", "180°", "240°", "300°"], "range": ["#000000", "#ff0000", "#0000ff", "#00ff00", "#ff8000", "#0fa7ea"]},
        "legend": {"orient": "none", "legendX": -5, "legendY": -134, "direction": "horizontal", "columns": 2, "title": " ", "titleOrient": "right", "titleFontSize": 29, "titlePadding": 7, "symbolType": "M-1.55,0H1.55", "symbolSize": 841, "symbolStrokeWidth": 2.5, "symbolOffset": 8, "labelFont": "Liberation Serif", "labelFontSize": 29, "labelColor": "black", "labelAlign": "center", "labelOffset": 44, "columnPadding": -7, "rowPadding": 6.5, "padding": 10, "strokeColor": "black", "fillColor": "white"}}
    }
  }
]
}
